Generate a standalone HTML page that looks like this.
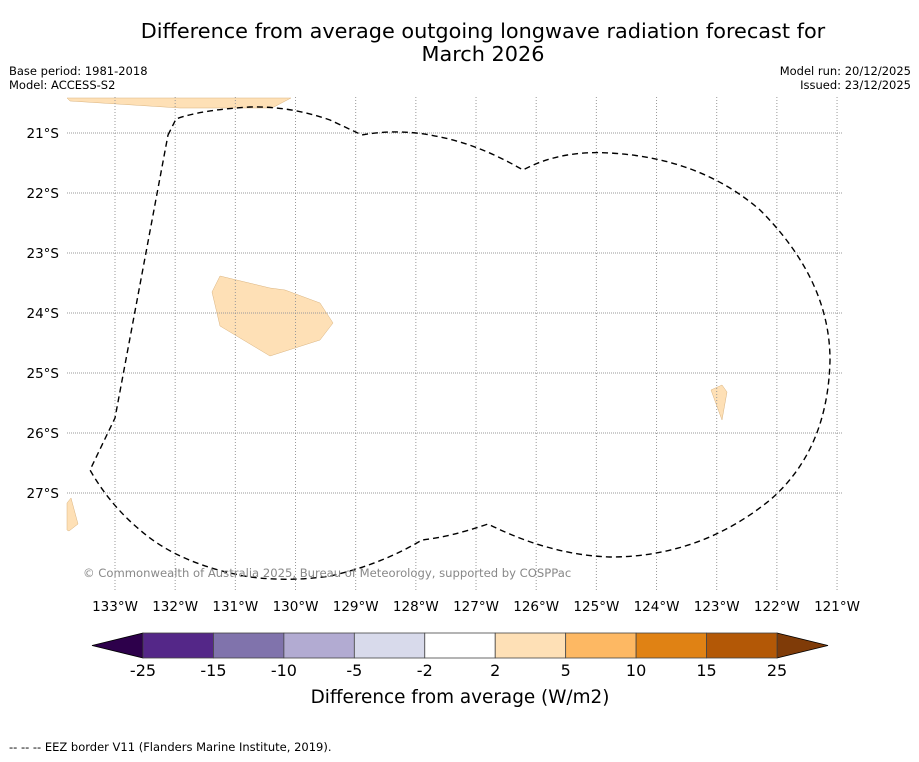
<!DOCTYPE html>
<html><head><meta charset="utf-8"><style>
body{margin:0;background:#fff;font-family:"DejaVu Sans","Liberation Sans",sans-serif}
</style></head><body>
<svg width="919" height="758" xmlns="http://www.w3.org/2000/svg" font-family="DejaVu Sans, Liberation Sans, sans-serif">
<text x="483" y="38" text-anchor="middle" font-size="20.8">Difference from average outgoing longwave radiation forecast for</text>
<text x="483" y="61" text-anchor="middle" font-size="20.8">March 2026</text>
<text x="9" y="75" font-size="11.5">Base period: 1981-2018</text>
<text x="9" y="89" font-size="11.5">Model: ACCESS-S2</text>
<text x="911" y="75" font-size="11.5" text-anchor="end">Model run: 20/12/2025</text>
<text x="911" y="89" font-size="11.5" text-anchor="end">Issued: 23/12/2025</text>
<g id="map">
<polygon points="67,98 291,98 272,108 180,108 70,101" fill="#fee0b6" stroke="#d9b37f" stroke-width="0.5"/>
<polygon points="220,276 212,292 220,326 270,356 320,340 333,323 320,303 285,290 270,288" fill="#fee0b6" stroke="#d9b37f" stroke-width="0.5"/>
<polygon points="711,390 722,385 727,392 722,420" fill="#fee0b6" stroke="#d9b37f" stroke-width="0.5"/>
<polygon points="67,503 71,498 78,524 69,531 67,530" fill="#fee0b6" stroke="#d9b37f" stroke-width="0.5"/>
<g id="grid"></g>
<path fill="none" stroke="#000" stroke-width="1.4" stroke-dasharray="6,4" d="M168,135 L176,119 Q200,110 250,107 Q290,106 330,120 L362,135 Q400,128 440,137 Q480,145 523,170 Q560,150 610,153 Q700,158 760,210 Q830,280 830,360 Q828,450 770,500 Q700,557 610,557 Q550,555 488,524 Q450,537 422,540 Q380,565 330,576 Q290,582 250,577 Q180,565 140,530 Q110,505 90,470 L115,418 L168,135"/>
<text x="83" y="577" font-size="11.6" fill="#888">© Commonwealth of Australia 2025, Bureau of Meteorology, supported by COSPPac</text>
</g>
<g id="cbar"></g>
<text x="460" y="703" text-anchor="middle" font-size="18.4">Difference from average (W/m2)</text>
<text x="9" y="751" font-size="11.5">--  --  -- EEZ border V11 (Flanders Marine Institute, 2019).</text>
</svg>
<script>
const lonTicks=[133,132,131,130,129,128,127,126,125,124,123,122,121];
const latTicks=[21,22,23,24,25,26,27];
const cbBounds=[-25,-15,-10,-5,-2,2,5,10,15,25];
const cbColors=["#542788","#8073ac","#b2abd2","#d8daeb","#ffffff","#fee0b6","#fdb863","#e08214","#b35806"];
const ns="http://www.w3.org/2000/svg";
const X0=67,X1=843,Y0=97,Y1=590;
const xLon=l=>115+(133-l)*60.17;
const yLat=l=>133+(l-21)*60;
const g=document.getElementById('grid');
function mk(t,a,p){const e=document.createElementNS(ns,t);for(const k in a)e.setAttribute(k,a[k]);p.appendChild(e);return e;}
lonTicks.forEach(l=>{const x=xLon(l);
const ln=mk('line',{x1:x,x2:x,y1:Y0,y2:Y1,stroke:'#999','stroke-width':1,'stroke-dasharray':'1,2'},g);


const t=mk('text',{x:x,y:611,'text-anchor':'middle','font-size':13.5},g);t.textContent=l+'°W';

});
latTicks.forEach(l=>{const y=yLat(l);
const ln=mk('line',{x1:X0,x2:X1,y1:y,y2:y,stroke:'#999','stroke-width':1,'stroke-dasharray':'1,1'},g);


const t=mk('text',{x:59,y:y+5,'text-anchor':'end','font-size':13.5},g);t.textContent=l+'°S';

});
const cb=document.getElementById('cbar');
const CX0=143,CX1=777,CY=633,CH=25,n=cbColors.length,w=(CX1-CX0)/n;
const lo=mk('polygon',{points:`${CX0},${CY} ${CX0},${CY+CH} 92,${CY+CH/2}`,fill:'#2d004b',stroke:'#000','stroke-width':0.8},cb);


const hi=mk('polygon',{points:`${CX1},${CY} ${CX1},${CY+CH} 828,${CY+CH/2}`,fill:'#7f3b08',stroke:'#000','stroke-width':0.8},cb);


cbColors.forEach((c,i)=>{const r=mk('rect',{x:CX0+i*w,y:CY,width:w,height:CH,fill:c,stroke:'#444','stroke-width':0.8},cb);

});
cbBounds.forEach((b,i)=>{const t=mk('text',{x:CX0+i*w,y:676,'text-anchor':'middle','font-size':16},cb);t.textContent=b;

});
</script>
</body></html>
